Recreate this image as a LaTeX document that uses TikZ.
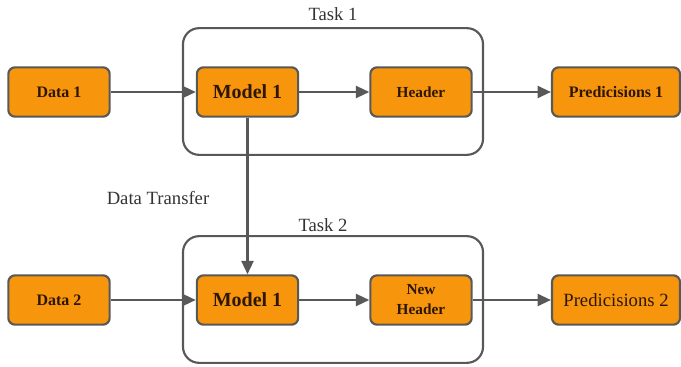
\documentclass[tikz,border=0pt]{standalone}
\usepackage{fontspec}
\setmainfont{Liberation Serif}
\usetikzlibrary{arrows.meta}

\definecolor{boxorange}{RGB}{247,150,12}
\definecolor{lineg}{RGB}{88,88,88}
\definecolor{txtbrown}{RGB}{45,22,5}

\tikzset{
  block/.style = {draw=lineg, line width=1.6pt, fill=boxorange, rounded corners=5pt,
                  minimum width=76pt, minimum height=37pt, align=center,
                  text=txtbrown, font=\bfseries\fontsize{12}{14}\selectfont},
  wide/.style = {minimum width=96pt},
  taskbox/.style = {draw=lineg, line width=1.6pt, rounded corners=12pt,
                    minimum width=225pt, minimum height=95pt},
  caption/.style = {font=\fontsize{14}{16}\selectfont, text=black!80},
  flow/.style = {draw=lineg, line width=1.6pt, -{Triangle[length=10pt,width=9pt]}}
}

\begin{document}
\begin{tikzpicture}[x=0.75pt, y=-0.75pt]
    \useasboundingbox (0,0) rectangle (681,367);
    % task frames
    \node (task1) [taskbox] at (333,91.5) {};
    \node (task2) [taskbox] at (333,299.5) {};
    \node (task1lbl) [caption] at (333,14) {Task 1};
    \node (task2lbl) [caption] at (323,225) {Task 2};
    % first row
    \node (data1) [block] at (59,92) {Data 1};
    \node (model1) [block, font=\bfseries\fontsize{15}{17}\selectfont] at (247.5,92) {Model 1};
    \node (header1) [block, font=\bfseries\fontsize{11.5}{14}\selectfont] at (421,92) {Header};
    \node (pred1) [block, wide] at (616,92) {Predicisions 1};
    % second row
    \node (data2) [block] at (59,300) {Data 2};
    \node (model2) [block, font=\bfseries\fontsize{15}{17}\selectfont] at (247.5,300) {Model 1};
    \node (header2) [block, font=\bfseries\fontsize{11.5}{15}\selectfont] at (421,300) {New\\Header};
    \node (pred2) [block, wide, font=\fontsize{14}{16}\selectfont] at (616,300) {Predicisions 2};
    \node (transfer) [caption] at (158,198) {Data Transfer};
    % arrows
    \draw[flow] (data1) -- (model1);
    \draw[flow] (model1) -- (header1);
    \draw[flow] (header1) -- (pred1);
    \draw[flow] (data2) -- (model2);
    \draw[flow] (model2) -- (header2);
    \draw[flow] (header2) -- (pred2);
    \draw[flow] (model1) -- (model2);
\end{tikzpicture}
\end{document}
